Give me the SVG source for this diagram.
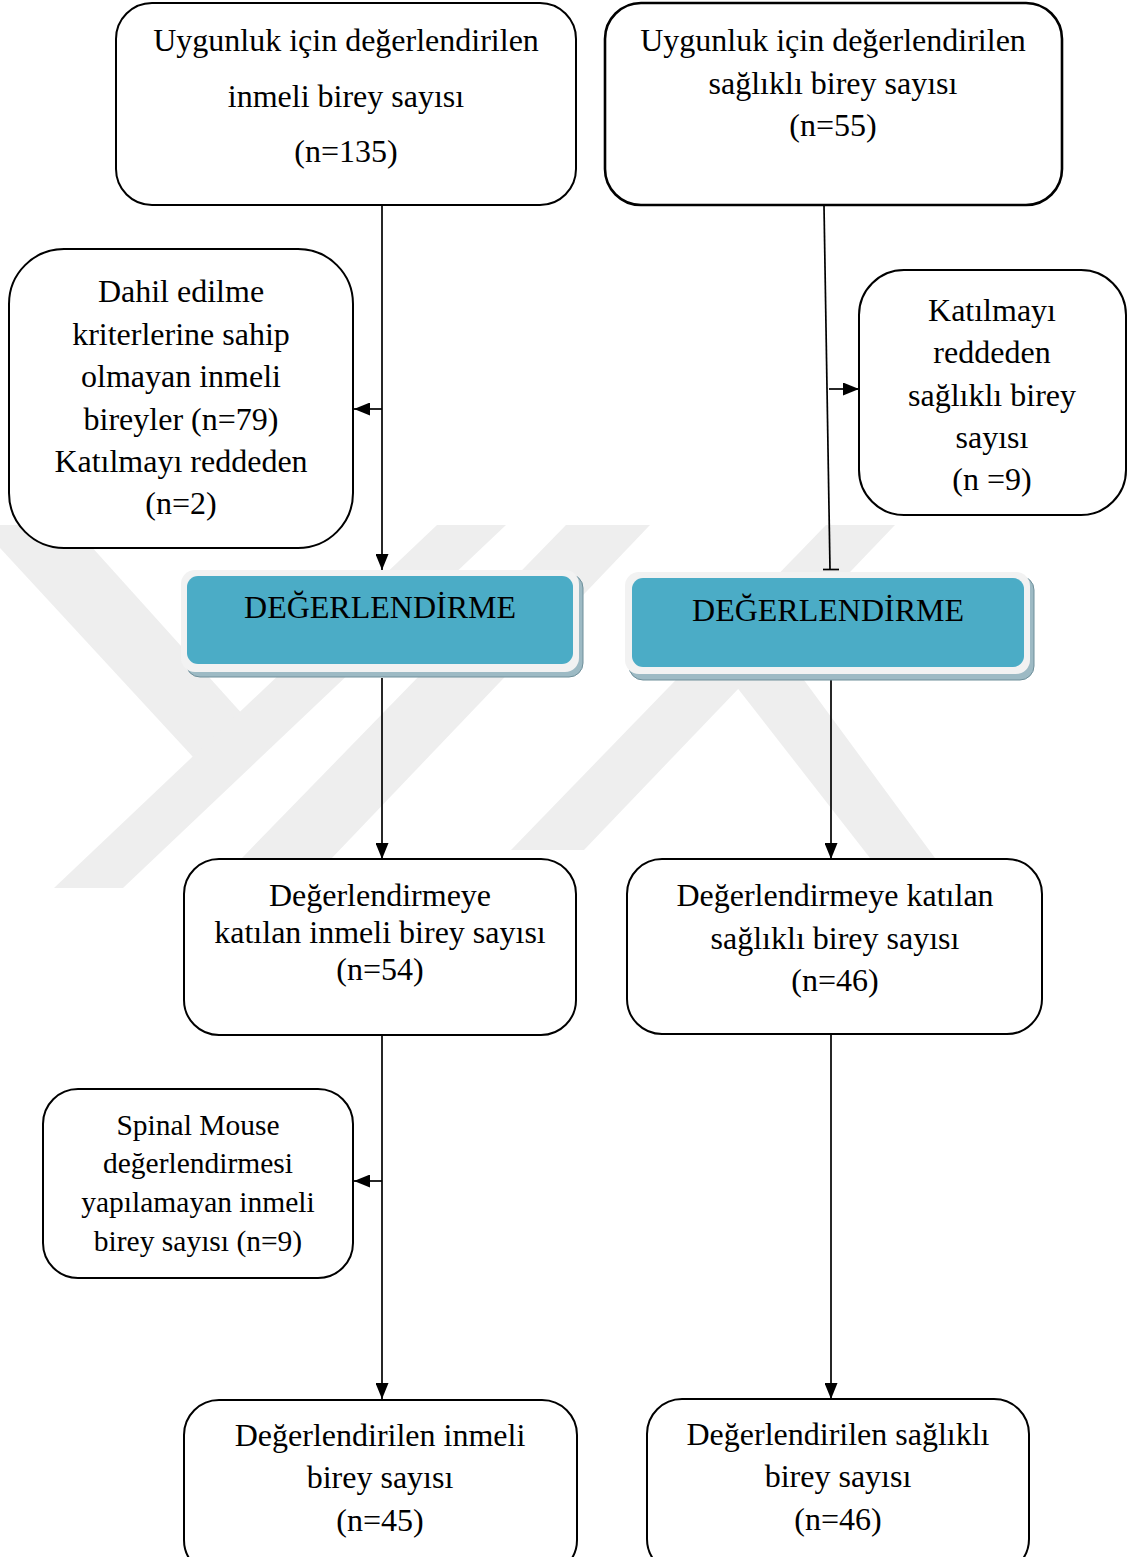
<svg xmlns="http://www.w3.org/2000/svg" width="1132" height="1557" viewBox="0 0 1132 1557">
<defs>
<style>
.box{fill:#ffffff;stroke:#000;stroke-width:2}
.t{font-family:"Liberation Serif","Times New Roman",serif;font-size:32px;fill:#000;text-anchor:middle}
.ts{font-family:"Liberation Serif","Times New Roman",serif;font-size:29.5px;fill:#000;text-anchor:middle}
.tb{font-family:"Liberation Serif","Times New Roman",serif;font-size:32px;fill:#000;text-anchor:middle}
.ln{stroke:#000;stroke-width:1.7;fill:none}
.wm{fill:#eeeeee}
.frame{fill:#f2f2f2}
.shadow{fill:#9dbac4;stroke:#6e8f9a;stroke-width:1}
.blue{fill:#4bacc6}
</style>
<marker id="ah" viewBox="0 0 16 13" refX="16" refY="6.5" markerWidth="16" markerHeight="13" markerUnits="userSpaceOnUse" orient="auto">
<path d="M0,0 L16,6.5 L0,13 Z" fill="#000"/>
</marker>
</defs>
<rect width="1132" height="1557" fill="#ffffff"/>
<g id="watermark">
<polygon class="wm" points="0,525 72,525 272,747 193,757 0,548"/>
<polygon class="wm" points="54,888 123,888 506,525 437,525"/>
<polygon class="wm" points="240,860 330,860 650,525 566,525"/>
<polygon class="wm" points="511,850 584,850 895,525 826,525"/>
<polygon class="wm" points="700,640 745,600 935,858 870,858"/>
</g>
<g id="connectors">
<line class="ln" x1="382" y1="205" x2="382" y2="570" marker-end="url(#ah)"/>
<line class="ln" x1="382" y1="409" x2="354" y2="409" marker-end="url(#ah)"/>
<line class="ln" x1="824" y1="206" x2="830" y2="569"/>
<line class="ln" x1="823" y1="569.5" x2="839" y2="569.5"/>
<line class="ln" x1="829" y1="389" x2="859" y2="389" marker-end="url(#ah)"/>
<line class="ln" x1="382" y1="678" x2="382" y2="859" marker-end="url(#ah)"/>
<line class="ln" x1="831" y1="680" x2="831" y2="859" marker-end="url(#ah)"/>
<line class="ln" x1="382" y1="1035" x2="382" y2="1399" marker-end="url(#ah)"/>
<line class="ln" x1="382" y1="1181" x2="354" y2="1181" marker-end="url(#ah)"/>
<line class="ln" x1="831" y1="1034" x2="831" y2="1399" marker-end="url(#ah)"/>
</g>
<g id="n1">
<rect class="box" x="116" y="3" width="460" height="202" rx="36"/>
<text class="t" x="346" y="51">Uygunluk için değerlendirilen</text>
<text class="t" x="346" y="107">inmeli birey sayısı</text>
<text class="t" x="346" y="162">(n=135)</text>
</g>
<g id="n2">
<rect class="box" x="605" y="3" width="457" height="202" rx="36" style="stroke-width:2.6"/>
<text class="t" x="833" y="51">Uygunluk için değerlendirilen</text>
<text class="t" x="833" y="94">sağlıklı birey sayısı</text>
<text class="t" x="833" y="136">(n=55)</text>
</g>
<g id="n3">
<rect class="box" x="9" y="249" width="344" height="299" rx="55"/>
<text class="t" x="181" y="302">Dahil edilme</text>
<text class="t" x="181" y="345">kriterlerine sahip</text>
<text class="t" x="181" y="387">olmayan inmeli</text>
<text class="t" x="181" y="430">bireyler (n=79)</text>
<text class="t" x="181" y="472">Katılmayı reddeden</text>
<text class="t" x="181" y="514">(n=2)</text>
</g>
<g id="n4">
<rect class="box" x="859" y="270" width="267" height="245" rx="45"/>
<text class="t" x="992" y="321">Katılmayı</text>
<text class="t" x="992" y="363">reddeden</text>
<text class="t" x="992" y="406">sağlıklı birey</text>
<text class="t" x="992" y="448">sayısı</text>
<text class="t" x="992" y="490">(n =9)</text>
</g>
<g id="n5">
<rect class="shadow" x="186" y="574" width="397" height="103" rx="14"/>
<rect class="frame" x="181" y="570" width="398" height="102" rx="14"/>
<rect class="blue" x="187" y="576" width="386" height="88" rx="11"/>
<text class="tb" x="380" y="618">DEĞERLENDİRME</text>
</g>
<g id="n6">
<rect class="shadow" x="629" y="576" width="405" height="104" rx="14"/>
<rect class="frame" x="625" y="572" width="405" height="102" rx="14"/>
<rect class="blue" x="632" y="578" width="392" height="89" rx="11"/>
<text class="tb" x="828" y="621">DEĞERLENDİRME</text>
</g>
<g id="n7">
<rect class="box" x="184" y="859" width="392" height="176" rx="35"/>
<text class="t" x="380" y="906">Değerlendirmeye</text>
<text class="t" x="380" y="943">katılan inmeli birey sayısı</text>
<text class="t" x="380" y="980">(n=54)</text>
</g>
<g id="n8">
<rect class="box" x="627" y="859" width="415" height="175" rx="35"/>
<text class="t" x="835" y="906">Değerlendirmeye katılan</text>
<text class="t" x="835" y="949">sağlıklı birey sayısı</text>
<text class="t" x="835" y="991">(n=46)</text>
</g>
<g id="n9">
<rect class="box" x="43" y="1089" width="310" height="189" rx="35"/>
<text class="ts" x="198" y="1135">Spinal Mouse</text>
<text class="ts" x="198" y="1173">değerlendirmesi</text>
<text class="ts" x="198" y="1212">yapılamayan inmeli</text>
<text class="ts" x="198" y="1251">birey sayısı (n=9)</text>
</g>
<g id="n10">
<rect class="box" x="184" y="1400" width="393" height="175" rx="35"/>
<text class="t" x="380" y="1446">Değerlendirilen inmeli</text>
<text class="t" x="380" y="1488">birey sayısı</text>
<text class="t" x="380" y="1531">(n=45)</text>
</g>
<g id="n11">
<rect class="box" x="647" y="1399" width="382" height="175" rx="35"/>
<text class="t" x="838" y="1445">Değerlendirilen sağlıklı</text>
<text class="t" x="838" y="1487">birey sayısı</text>
<text class="t" x="838" y="1530">(n=46)</text>
</g>
</svg>
